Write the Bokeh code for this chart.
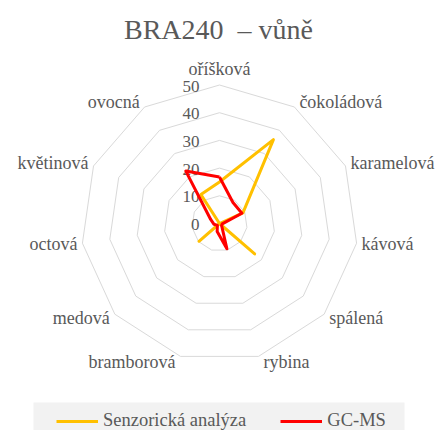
import numpy as np
from bokeh.plotting import figure
from bokeh.models import Range1d, Legend, LegendItem
from bokeh.core.properties import value
from bokeh.embed import file_html
from bokeh.resources import INLINE

# ---------------- data ----------------
title_text = "BRA240\u00a0\u00a0\u2013 v\u016fn\u011b"
categories = ["oříšková", "čokoládová", "karamelová", "kávová", "spálená",
              "rybina", "bramborová", "medová", "octová", "květinová", "ovocná"]
senzoricka = [15, 36, 9.3, 0, 16.8, 0, 0, 9.8, 0, 0, 12.4]
gcms = [16.8, 9, 8.9, 1, 1, 9.5, 3, 1, 2, 3.5, 22.5]
ticks = [0, 10, 20, 30, 40, 50]
series_names = ["Senzorická analýza", "GC-MS"]
series_colors = ["#FFC000", "#FF0000"]

# ---------------- layout ----------------
W, H = 439, 430
CX, CY = 219, 223        # centre of the radar in figure pixels
S = 2.77                 # pixels per value unit
FONT_NAME = "Liberation Serif"
FONT = value(FONT_NAME)
GREY = "#595959"

def fx(px):
    return (px - CX) / S

def fy(py):
    return (CY - py) / S

p = figure(width=W, height=H, output_backend="svg", toolbar_location=None,
           x_range=Range1d(fx(0), fx(W)), y_range=Range1d(fy(H), fy(0)),
           min_border=0, outline_line_color=None)
p.axis.visible = False
p.grid.visible = False
p.background_fill_color = "white"
p.border_fill_color = "white"

n = len(categories)
theta = np.arange(n) * 2 * np.pi / n
sin_t, cos_t = np.sin(theta), np.cos(theta)
rmax = max(ticks)

# grid rings
for t in ticks[1:]:
    xs = list(t * sin_t) + [t * sin_t[0]]
    ys = list(t * cos_t) + [t * cos_t[0]]
    p.line(xs, ys, line_color="#d9d9d9", line_width=1)

# value labels
p.text(x=[0] * len(ticks), y=ticks, text=[str(t) for t in ticks],
       text_font=FONT, text_font_size="17px", text_color=GREY,
       text_align="right", text_baseline="middle", x_offset=-20, y_offset=1)

# category labels
for i, c in enumerate(categories):
    vx, vy = rmax * sin_t[i], rmax * cos_t[i]
    if abs(sin_t[i]) < 0.05:
        align, xo, yo = "center", 0, -cos_t[i] * 16
    elif sin_t[i] > 0:
        align, xo, yo = "left", 5, -cos_t[i] * 6
    else:
        align, xo, yo = "right", -5, -cos_t[i] * 6
    p.text(x=[vx], y=[vy], text=[c], text_font=FONT, text_font_size="18px",
           text_color=GREY, text_align=align, text_baseline="middle",
           x_offset=xo, y_offset=yo)

# title
p.text(x=[fx(218)], y=[fy(29)], text=[title_text], text_font=FONT,
       text_font_size="28px", text_color=GREY, text_align="center",
       text_baseline="middle")

# legend background
p.quad(left=[fx(33)], right=[fx(404)], top=[fy(402)], bottom=[fy(H + 5)],
       fill_color="#f2f2f2", line_color=None)

# series
renderers = []
for vals, col in zip([senzoricka, gcms], series_colors):
    v = np.array(vals, dtype=float)
    xs = list(v * sin_t) + [v[0] * sin_t[0]]
    ys = list(v * cos_t) + [v[0] * cos_t[0]]
    r = p.line(xs, ys, line_color=col, line_width=3, line_join="round")
    renderers.append(r)

legend = Legend(items=[LegendItem(label=nm, renderers=[r]) for nm, r in zip(series_names, renderers)],
                orientation="horizontal", location=(56, -1),
                padding=4, spacing=34, glyph_width=42, glyph_height=20,
                label_standoff=5, label_text_font=FONT_NAME, label_text_font_size="18.5px",
                label_text_color=GREY, background_fill_alpha=0, border_line_color=None,
                margin=0)
p.add_layout(legend, "center")

open("out.html", "w").write(file_html(p, INLINE))
